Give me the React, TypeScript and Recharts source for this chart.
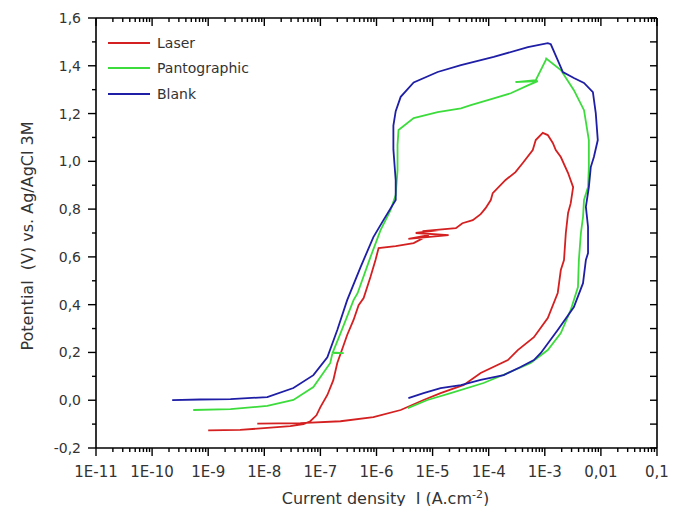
import React from 'react';
import { LineChart, Line, XAxis, YAxis, Legend, Label } from 'recharts';

// current density (A/cm2), potential (V)
const laser: [number, number][] = [
  [1.0e-9, -0.126], [3.7e-9, -0.124], [1.13e-8, -0.116], [2.9e-8, -0.108], [5.0e-8, -0.1],
  [6.6e-8, -0.088], [8.5e-8, -0.063], [1.0e-7, -0.029], [1.33e-7, 0.022], [1.7e-7, 0.084],
  [2.0e-7, 0.156], [2.6e-7, 0.231], [3.0e-7, 0.273], [3.9e-7, 0.336], [4.8e-7, 0.398],
  [5.9e-7, 0.428], [7.8e-7, 0.516], [9.6e-7, 0.587], [1.09e-6, 0.637], [2.2e-6, 0.645],
  [4.6e-6, 0.658], [8.5e-6, 0.691], [3.7e-6, 0.675], [1.93e-5, 0.691], [5.0e-6, 0.7],
  [1.28e-5, 0.712], [6.6e-6, 0.708], [2.6e-5, 0.72], [3.4e-5, 0.741], [5.2e-5, 0.754],
  [7.2e-5, 0.779], [8.8e-5, 0.804], [1.09e-4, 0.838], [1.18e-4, 0.867], [2.0e-4, 0.922],
  [3.0e-4, 0.955], [4.05e-4, 0.993], [6.1e-4, 1.047], [6.9e-4, 1.089], [9.2e-4, 1.119],
  [1.13e-3, 1.11], [1.39e-3, 1.077], [1.57e-3, 1.047], [1.93e-3, 1.018], [2.6e-3, 0.951],
  [3.2e-3, 0.892], [2.9e-3, 0.825], [2.6e-3, 0.784], [2.37e-3, 0.7], [2.2e-3, 0.587],
  [1.93e-3, 0.545], [1.7e-3, 0.449], [1.13e-3, 0.344], [6.4e-4, 0.264], [3.3e-4, 0.21],
  [2.2e-4, 0.168], [7.2e-5, 0.114], [3.6e-5, 0.064], [1.39e-5, 0.03], [6.9e-6, 0.001],
  [2.7e-6, -0.041], [8.8e-7, -0.071], [2.28e-7, -0.088], [4.4e-8, -0.096], [7.5e-9, -0.098],
];

const pantographic: [number, number][] = [
  [5.4e-10, -0.041], [2.5e-9, -0.037], [1.13e-8, -0.024], [3.3e-8, 0.001], [7.5e-8, 0.055],
  [1.5e-7, 0.156], [1.64e-7, 0.197], [2.6e-7, 0.197], [1.66e-7, 0.2], [2.28e-7, 0.28],
  [3.9e-7, 0.419], [4.6e-7, 0.448], [7.8e-7, 0.599], [1.18e-6, 0.712], [1.78e-6, 0.796],
  [2.2e-6, 0.859], [2.37e-6, 0.963], [2.37e-6, 1.068], [2.47e-6, 1.131], [4.6e-6, 1.181],
  [1.23e-5, 1.206], [3.2e-5, 1.222], [4.8e-5, 1.235], [1.23e-4, 1.264], [2.47e-4, 1.285],
  [5.0e-4, 1.318], [7.5e-4, 1.336], [3.0e-4, 1.332], [6.9e-4, 1.34], [1.04e-3, 1.424],
  [1.06e-3, 1.43], [1.93e-3, 1.382], [3.3e-3, 1.298], [5.0e-3, 1.214], [6.1e-3, 1.089],
  [6.1e-3, 1.005], [6.1e-3, 0.976], [5.9e-3, 0.892], [5.0e-3, 0.838], [4.8e-3, 0.767],
  [4.4e-3, 0.7], [4.05e-3, 0.587], [3.9e-3, 0.474], [2.9e-3, 0.378], [1.93e-3, 0.281],
  [1.13e-3, 0.21], [5.6e-4, 0.156], [2.2e-4, 0.114], [8.1e-5, 0.072], [2.1e-5, 0.03],
  [8.1e-6, 0.001], [3.6e-6, -0.033],
];

const blank: [number, number][] = [
  [2.28e-10, 0.0], [7.2e-10, 0.003], [2.5e-9, 0.005], [1.13e-8, 0.013], [3.3e-8, 0.051],
  [7.5e-8, 0.105], [1.33e-7, 0.18], [2.0e-7, 0.294], [3.0e-7, 0.419], [5.2e-7, 0.557],
  [8.8e-7, 0.683], [1.33e-6, 0.754], [2.2e-6, 0.838], [2.2e-6, 0.92], [2.0e-6, 1.05],
  [2.0e-6, 1.15], [2.2e-6, 1.21], [2.7e-6, 1.27], [4.6e-6, 1.33], [1.23e-5, 1.374],
  [3.2e-5, 1.403], [1.23e-4, 1.437], [5.0e-4, 1.478], [1.13e-3, 1.495], [1.28e-3, 1.49],
  [1.7e-3, 1.424], [2.1e-3, 1.374], [3.3e-3, 1.349], [5.0e-3, 1.328], [7.2e-3, 1.29],
  [8.1e-3, 1.202], [8.8e-3, 1.089], [7.5e-3, 1.018], [6.6e-3, 0.976], [6.1e-3, 0.892],
  [5.4e-3, 0.809], [5.9e-3, 0.725], [5.9e-3, 0.616], [5.4e-3, 0.587], [4.8e-3, 0.49],
  [3.3e-3, 0.39], [1.7e-3, 0.294], [8.5e-4, 0.198], [6.4e-4, 0.168], [3.7e-4, 0.139],
  [1.85e-4, 0.105], [7.2e-5, 0.085], [3.2e-5, 0.063], [1.39e-5, 0.051], [6.9e-6, 0.03],
  [3.7e-6, 0.009],
];

const seriesNames = ['Laser', 'Pantographic', 'Blank'];
const decadeTicks = [1e-11, 1e-10, 1e-9, 1e-8, 1e-7, 1e-6, 1e-5, 1e-4, 1e-3, 1e-2, 1e-1];
const decadeLabels = ['1E-11', '1E-10', '1E-9', '1E-8', '1E-7', '1E-6', '1E-5', '1E-4', '1E-3', '0,01', '0,1'];
const yTicks = [-0.2, -0.1, 0, 0.1, 0.2, 0.3, 0.4, 0.5, 0.6, 0.7, 0.8, 0.9, 1.0, 1.1, 1.2, 1.3, 1.4, 1.5, 1.6];

const minorTicks = decadeTicks.slice(0, -1).flatMap((d) => [2, 3, 4, 5, 6, 7, 8, 9].map((k) => k * d));
const xTicks = [...decadeTicks, ...minorTicks].sort((a, b) => a - b);

const toPoints = (rows: [number, number][]) => rows.map(([i, v]) => ({ i, v }));

const FONT = '"DejaVu Sans", "Liberation Sans", Arial, sans-serif';
const TEXT = '#333';

const decadeIndex = (v: number) =>
  decadeTicks.findIndex((d) => Math.abs(Math.log10(v) - Math.log10(d)) < 1e-6);
const isMajorY = (v: number) => Math.round(v * 10) % 2 === 0;

const BottomTick = ({ x, y, payload }: any) => {
  const idx = decadeIndex(payload.value);
  return (
    <g>
      <line x1={x} x2={x} y1={y} y2={y + (idx >= 0 ? 8 : 4)} stroke="#000" strokeWidth={1.4} />
      {idx >= 0 && (
        <text x={x} y={y + 29} textAnchor="middle" fontSize={15} fontFamily={FONT} fill={TEXT}>
          {decadeLabels[idx]}
        </text>
      )}
    </g>
  );
};

const TopTick = ({ x, y, payload }: any) => {
  const major = decadeIndex(payload.value) >= 0;
  return <line x1={x} x2={x} y1={y} y2={y + (major ? 8 : 4)} stroke="#000" strokeWidth={1.4} />;
};

const LeftTick = ({ x, y, payload }: any) => {
  const major = isMajorY(payload.value);
  return (
    <g>
      <line x1={x - (major ? 8 : 4)} x2={x} y1={y} y2={y} stroke="#000" strokeWidth={1.4} />
      {major && (
        <text x={x - 15} y={y + 5} textAnchor="end" fontSize={14} fontFamily={FONT} fill={TEXT}>
          {payload.value.toFixed(1).replace('.', ',')}
        </text>
      )}
    </g>
  );
};

const RightTick = ({ x, y }: any) => (
  <line x1={x - 7} x2={x} y1={y} y2={y} stroke="#000" strokeWidth={1.4} />
);

const XTitle = ({ viewBox }: any) => (
  <text
    x={viewBox.x + viewBox.width / 2 + 9}
    y={viewBox.y + 56}
    textAnchor="middle"
    fontSize={16}
    fontFamily={FONT}
    fill={TEXT}
    style={{ whiteSpace: 'pre' }}
  >
    Current density  I (A.cm
    <tspan dy={-6} fontSize={11}>-2</tspan>
    <tspan dy={6}>)</tspan>
  </text>
);

const YTitle = ({ viewBox }: any) => {
  const cx = viewBox.x + 27;
  const cy = viewBox.y + viewBox.height / 2 + 3;
  return (
    <text
      x={cx}
      y={cy}
      transform={`rotate(-90, ${cx}, ${cy})`}
      textAnchor="middle"
      dominantBaseline="central"
      fontSize={16}
      fontFamily={FONT}
      fill={TEXT}
      style={{ whiteSpace: 'pre' }}
    >
      Potential  (V) vs. Ag/AgCl 3M
    </text>
  );
};

const renderLegend = (props: any) => (
  <div style={{ fontFamily: FONT, fontSize: 14, color: TEXT }}>
    {(props.payload || []).map((entry: any) => (
      <div key={entry.value} style={{ display: 'flex', alignItems: 'center', height: 25.5 }}>
        <span style={{ display: 'inline-block', width: 42, height: 2, background: entry.color, marginRight: 7 }} />
        <span>{entry.value}</span>
      </div>
    ))}
  </div>
);

const axisLine = { stroke: '#000', strokeWidth: 1.6 };

const App: React.FC = () => {
  return (
    <div style={{ margin: -8, width: 678, height: 514, background: '#fff' }}>
      <LineChart width={678} height={514} margin={{ top: 17, right: 20, bottom: 0, left: 0 }}>
        <XAxis
          xAxisId="b"
          dataKey="i"
          type="number"
          scale="log"
          domain={[1e-11, 0.1]}
          allowDataOverflow
          ticks={xTicks}
          interval={0}
          tick={(p: any) => <BottomTick {...p} />}
          tickLine={false}
          tickSize={0}
          tickMargin={0}
          height={66}
          axisLine={axisLine}
        >
          <Label content={XTitle} />
        </XAxis>
        <XAxis
          xAxisId="t"
          orientation="top"
          dataKey="i"
          type="number"
          scale="log"
          domain={[1e-11, 0.1]}
          allowDataOverflow
          ticks={xTicks}
          interval={0}
          tick={(p: any) => <TopTick {...p} />}
          tickLine={false}
          tickSize={0}
          tickMargin={0}
          height={1}
          axisLine={axisLine}
        />
        <YAxis
          yAxisId="l"
          type="number"
          domain={[-0.2, 1.6]}
          allowDataOverflow
          ticks={yTicks}
          interval={0}
          tick={(p: any) => <LeftTick {...p} />}
          tickLine={false}
          tickSize={0}
          tickMargin={0}
          width={96}
          axisLine={axisLine}
        >
          <Label content={YTitle} />
        </YAxis>
        <YAxis
          yAxisId="r"
          orientation="right"
          type="number"
          domain={[-0.2, 1.6]}
          allowDataOverflow
          ticks={yTicks}
          interval={0}
          tick={(p: any) => <RightTick {...p} />}
          tickLine={false}
          tickSize={0}
          tickMargin={0}
          width={1}
          axisLine={axisLine}
        />
        <Legend
          layout="vertical"
          align="center"
          verticalAlign="middle"
          content={renderLegend}
          itemSorter={(item: any) => seriesNames.indexOf(item.value)}
          wrapperStyle={{ top: 30, left: 108, width: 160 }}
        />
        <Line
          xAxisId="b"
          yAxisId="l"
          data={toPoints(laser)}
          dataKey="v"
          name={seriesNames[0]}
          type="linear"
          stroke="#d42020"
          strokeWidth={1.8}
          dot={false}
          isAnimationActive={false}
        />
        <Line
          xAxisId="b"
          yAxisId="l"
          data={toPoints(pantographic)}
          dataKey="v"
          name={seriesNames[1]}
          type="linear"
          stroke="#3ddc3d"
          strokeWidth={1.8}
          dot={false}
          isAnimationActive={false}
        />
        <Line
          xAxisId="b"
          yAxisId="l"
          data={toPoints(blank)}
          dataKey="v"
          name={seriesNames[2]}
          type="linear"
          stroke="#1e1ea6"
          strokeWidth={1.8}
          dot={false}
          isAnimationActive={false}
        />
      </LineChart>
    </div>
  );
};

export default App;
